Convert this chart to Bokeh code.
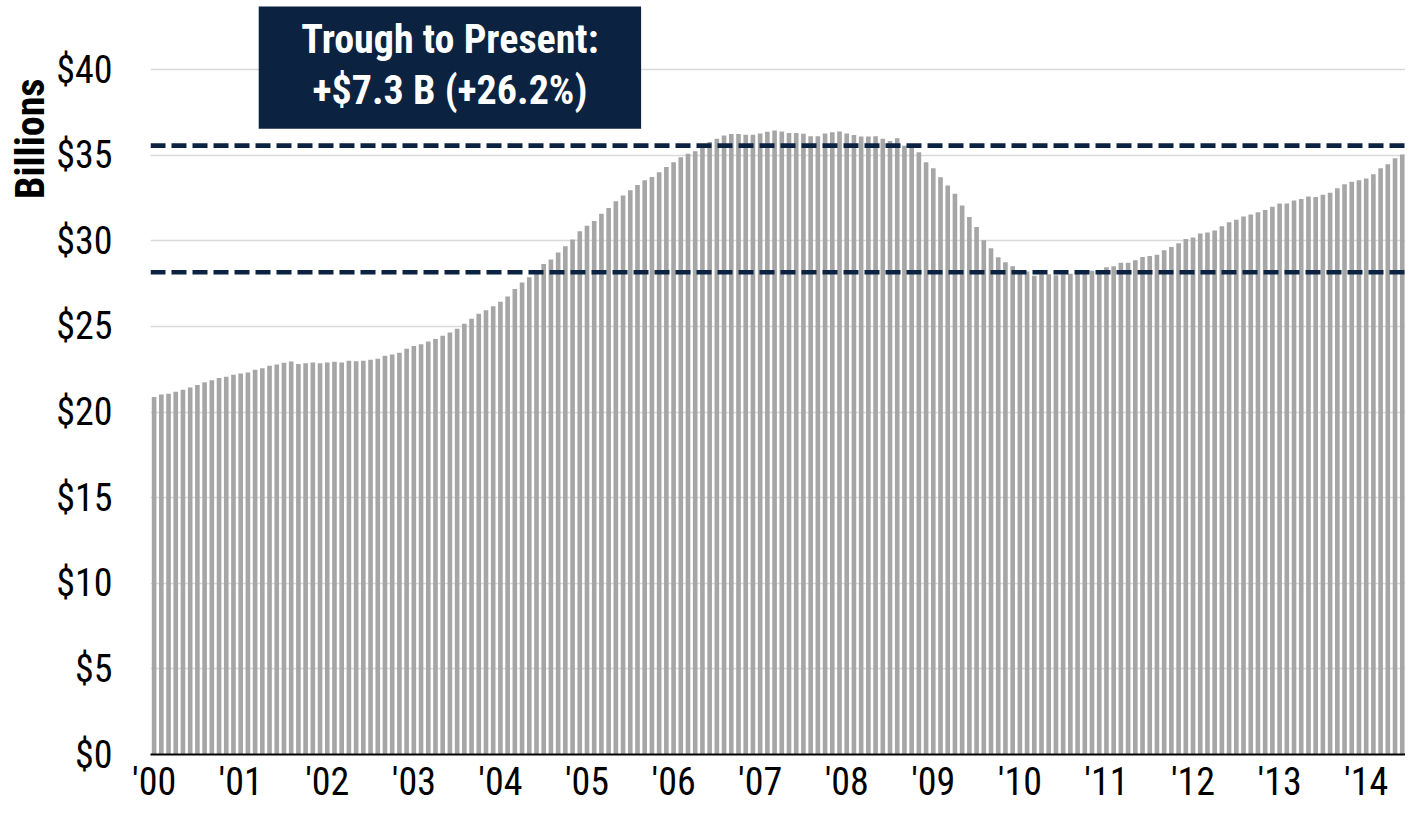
from bokeh.plotting import figure
from bokeh.models import Range1d, FixedTicker, Span, BoxAnnotation, Label
from bokeh.embed import file_html
from bokeh.resources import INLINE

# ---- data (monthly, $ billions) ----
year_labels = ["'00", "'01", "'02", "'03", "'04", "'05", "'06", "'07",
               "'08", "'09", "'10", "'11", "'12", "'13", "'14"]
vals_2000 = [20.87, 21.02, 21.06, 21.18, 21.30, 21.43, 21.57, 21.74, 21.86, 21.98, 22.06, 22.17]
vals_2001 = [22.25, 22.31, 22.47, 22.56, 22.70, 22.78, 22.88, 22.95, 22.80, 22.85, 22.89, 22.85]
vals_2002 = [22.89, 22.93, 22.89, 22.99, 22.97, 22.99, 23.05, 23.11, 23.28, 23.36, 23.46, 23.69]
vals_2003 = [23.85, 23.95, 24.12, 24.26, 24.46, 24.65, 24.86, 25.16, 25.45, 25.74, 25.94, 26.17]
vals_2004 = [26.44, 26.75, 27.18, 27.56, 27.87, 28.14, 28.65, 28.90, 29.31, 29.68, 30.07, 30.56]
vals_2005 = [30.87, 31.16, 31.57, 31.92, 32.31, 32.64, 32.95, 33.26, 33.54, 33.73, 34.00, 34.30]
vals_2006 = [34.59, 34.88, 35.08, 35.22, 35.45, 35.76, 35.95, 36.15, 36.23, 36.23, 36.19, 36.19]
vals_2007 = [36.27, 36.36, 36.44, 36.38, 36.29, 36.29, 36.25, 36.11, 36.11, 36.27, 36.34, 36.38]
vals_2008 = [36.27, 36.17, 36.09, 36.09, 36.11, 35.95, 35.82, 35.98, 35.55, 35.45, 35.17, 34.59]
vals_2009 = [34.24, 33.71, 33.23, 32.74, 32.06, 31.39, 30.81, 30.03, 29.56, 29.04, 28.74, 28.51]
vals_2010 = [28.23, 28.20, 27.96, 28.04, 28.04, 27.98, 28.04, 28.08, 28.16, 28.20, 28.25, 28.25]
vals_2011 = [28.45, 28.51, 28.72, 28.72, 28.86, 29.05, 29.11, 29.19, 29.44, 29.64, 29.85, 30.11]
vals_2012 = [30.19, 30.42, 30.48, 30.60, 30.85, 31.08, 31.22, 31.41, 31.53, 31.67, 31.80, 31.98]
vals_2013 = [32.17, 32.17, 32.35, 32.44, 32.58, 32.56, 32.68, 32.80, 33.07, 33.30, 33.44, 33.54]
vals_2014 = [33.64, 33.89, 34.24, 34.47, 34.82, 35.04]

y_tick_values = [0, 5, 10, 15, 20, 25, 30, 35, 40]
y_tick_labels = ["$0", "$5", "$10", "$15", "$20", "$25", "$30", "$35", "$40"]

trough_level = 28.16
present_level = 35.55
note_line1 = "Trough to Present:"
note_line2 = "+$7.3 B (+26.2%)"
y_title = "Billions"

values = (vals_2000 + vals_2001 + vals_2002 + vals_2003 + vals_2004 + vals_2005 +
          vals_2006 + vals_2007 + vals_2008 + vals_2009 + vals_2010 + vals_2011 +
          vals_2012 + vals_2013 + vals_2014)
months = list(range(len(values)))

# ---- style ----
FONT = "'Liberation Sans Narrow', 'Roboto Condensed', 'Noto Sans Condensed', 'Liberation Sans', sans-serif"
NAVY = "#0b2240"
BAR = "#a6a6a6"

p = figure(width=1405, height=806, output_backend="svg", toolbar_location=None,
           x_range=Range1d(-0.5, len(values) - 0.55), y_range=Range1d(0, 44.03),
           min_border_left=150, min_border_right=0, min_border_top=0,
           min_border_bottom=52, title=y_title, title_location="left")
p.outline_line_color = None
p.background_fill_color = "white"
p.border_fill_color = "white"

p.title.align = "right"
p.title.offset = 78
p.title.standoff = 0
p.title.text_font = FONT
p.title.text_font_size = "40px"
p.title.text_font_style = "bold"
p.title.text_color = "black"

p.vbar(x=months, top=values, width=0.64, fill_color=BAR, line_color=None)

p.xgrid.visible = False
p.ygrid.ticker = FixedTicker(ticks=y_tick_values)
p.ygrid.grid_line_color = "#d9d9d9"
p.ygrid.grid_line_width = 1.5

# y axis
p.yaxis.ticker = FixedTicker(ticks=y_tick_values)
p.yaxis.major_label_overrides = {v: s for v, s in zip(y_tick_values, y_tick_labels)}
p.yaxis.axis_line_color = None
p.yaxis.major_tick_line_color = None
p.yaxis.minor_tick_line_color = None
p.yaxis.major_tick_out = 0
p.yaxis.major_tick_in = 0
p.yaxis.major_label_standoff = 38
p.yaxis.major_label_text_font = FONT
p.yaxis.major_label_text_font_size = "38px"
p.yaxis.major_label_text_color = "black"

# x axis
x_ticks = [12 * k for k in range(len(year_labels))]
p.xaxis.ticker = FixedTicker(ticks=x_ticks)
p.xaxis.major_label_overrides = {t: s for t, s in zip(x_ticks, year_labels)}
p.xaxis.axis_line_color = "black"
p.xaxis.axis_line_width = 2
p.xaxis.major_tick_line_color = None
p.xaxis.minor_tick_line_color = None
p.xaxis.major_tick_out = 0
p.xaxis.major_tick_in = 0
p.xaxis.major_label_standoff = 5
p.xaxis.major_label_text_font = FONT
p.xaxis.major_label_text_font_size = "38px"
p.xaxis.major_label_text_color = "black"

# reference lines
for lvl in (present_level, trough_level):
    p.add_layout(Span(location=lvl, dimension="width", line_color=NAVY,
                      line_width=4.7, line_dash="15 6"))

# annotation box
p.add_layout(BoxAnnotation(left=14.5, right=67.5, bottom=36.54, top=43.68,
                           fill_color=NAVY, fill_alpha=1.0, line_color=None))
p.add_layout(Label(x=41.0, y=41.75, text=note_line1, text_align="center",
                   text_baseline="middle", text_color="white", text_font=FONT,
                   text_font_style="bold", text_font_size="40px"))
p.add_layout(Label(x=41.0, y=38.77, text=note_line2, text_align="center",
                   text_baseline="middle", text_color="white", text_font=FONT,
                   text_font_style="bold", text_font_size="40px"))

open("out.html", "w").write(file_html(p, INLINE))
